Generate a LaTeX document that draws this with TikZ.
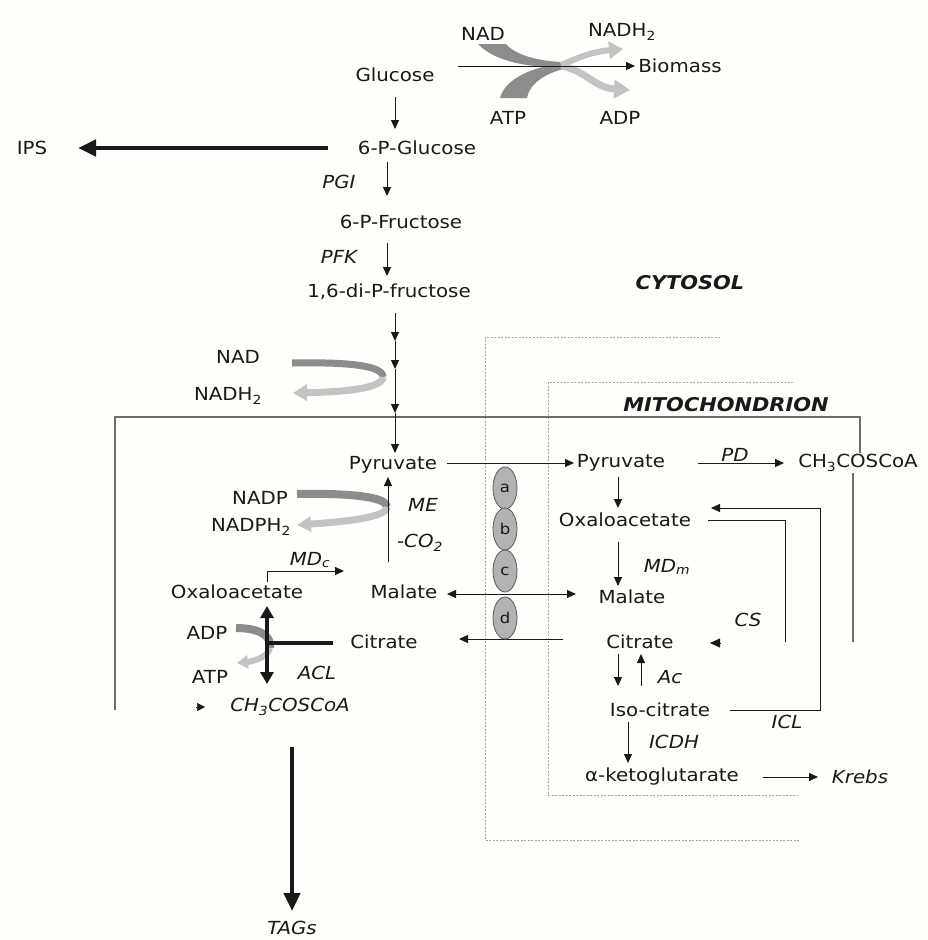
\documentclass[tikz,border=0pt]{standalone}
\usepackage{fontspec}
\setmainfont{DejaVu Sans}[FakeStretch=1.1,ItalicFont={DejaVu Sans Oblique},BoldFont={DejaVu Sans Bold},BoldItalicFont={DejaVu Sans Bold Oblique}]
\usetikzlibrary{arrows.meta,shapes.geometric}
\definecolor{bgc}{RGB}{254,254,250}
\definecolor{ink}{RGB}{25,25,25}
\definecolor{frm}{RGB}{110,110,110}
\definecolor{dotc}{RGB}{165,165,165}
\definecolor{bandD}{RGB}{140,140,140}
\definecolor{bandL}{RGB}{195,195,195}
\tikzset{
 txt/.style={font=\fontsize{18}{20}\selectfont, text=ink, inner sep=0pt},
 lab/.style={font=\fontsize{18}{20}\selectfont\itshape, text=ink, inner sep=0pt},
 ttl/.style={font=\fontsize{19}{21}\selectfont\bfseries\itshape, text=ink, inner sep=0pt},
 arr/.style={draw=ink, line width=1pt, -{Triangle[length=9pt,width=8pt]}},
 thk/.style={draw=ink, line width=4.5pt, -{Triangle[length=18pt,width=16pt]}},
 midthk/.style={draw=ink, line width=3.5pt, -{Triangle[length=12pt,width=13pt]}},
 oval/.style={ellipse, draw=black!65, fill=black!30, line width=0.8pt, minimum width=24pt, minimum height=42pt, inner sep=0pt, font=\fontsize{15}{16}\selectfont, text=ink},
 frame/.style={draw=frm, line width=1.1pt},
 dotline/.style={draw=dotc, line width=0.8pt, dash pattern=on 2pt off 1.5pt},
}
\begin{document}
\begin{tikzpicture}[x=1pt,y=-1pt]
\useasboundingbox (0,0) rectangle (928,940);
\fill[bgc] (0,0) rectangle (928,940);

% ---------- dotted compartments ----------
\draw[dotline] (720,337) -- (485,337) -- (485,840) -- (800,840);
\draw[dotline] (793,382) -- (548,382) -- (548,795) -- (797,795);

% ---------- cell frame line ----------
\coordinate (fA) at (115,710);
\coordinate (fB) at (115,417);
\coordinate (fC) at (860,417);
\coordinate (fD) at (860,453);
\coordinate (fE) at (853,473);
\coordinate (fF) at (853,642);
\draw[frame] (fA) -- (fB) -- (fC) -- (fD);
\draw[frame] (fE) -- (fF);

% ---------- text nodes ----------
\node[txt] (glc) at (395,75) {Glucose};
\node[txt] (nadT) at (483,34) {NAD};
\node[txt] (nadhT) at (622,32) {NADH\textsubscript{2}};
\node[txt] (bio) at (680,66) {Biomass};
\node[txt] (atpT) at (508,118) {ATP};
\node[txt] (adpT) at (620,118) {ADP};
\node[txt] (g6p) at (417,148) {6-P-Glucose};
\node[txt] (ips) at (32,148) {IPS};
\node[lab] (pgi) at (339,182) {PGI};
\node[txt] (f6p) at (401,222) {6-P-Fructose};
\node[lab] (pfk) at (339,257) {PFK};
\node[txt] (fbp) at (389,292) {1,6-di-P-fructose};
\node[ttl] (cyt) at (690,283) {CYTOSOL};
\node[txt] (nadL) at (238,357) {NAD};
\node[txt] (nadhL) at (228,396) {NADH\textsubscript{2}};
\node[ttl] (mito) at (726,405) {MITOCHONDRION};
\node[txt] (pyrC) at (393,465) {Pyruvate};
\node[txt] (pyrM) at (621,463) {Pyruvate};
\node[lab] (pd) at (735,455) {PD};
\node[txt] (accM) at (858,463) {CH\textsubscript{3}COSCoA};
\node[txt] (nadp) at (260,498) {NADP};
\node[lab] (me) at (423,505) {ME};
\node[txt] (oaaM) at (625,520) {Oxaloacetate};
\node[txt] (nadph) at (251,527) {NADPH\textsubscript{2}};
\node[lab] (co2) at (420,543) {-CO\textsubscript{2}};
\node[lab] (mdc) at (310,560) {MD\textsubscript{c}};
\node[lab] (mdm) at (667,567) {MD\textsubscript{m}};
\node[txt] (oaaC) at (237,592) {Oxaloacetate};
\node[txt] (malC) at (404,592) {Malate};
\node[txt] (malM) at (632,597) {Malate};
\node[lab] (cs) at (748,620) {CS};
\node[txt] (adpL) at (207,633) {ADP};
\node[txt] (citC) at (384,642) {Citrate};
\node[txt] (citM) at (640,642) {Citrate};
\node[txt] (atpL) at (210,677) {ATP};
\node[lab] (acl) at (317,673) {ACL};
\node[lab] (ac) at (670,677) {Ac};
\node[lab] (accC) at (290,707) {CH\textsubscript{3}COSCoA};
\node[txt] (iso) at (660,710) {Iso-citrate};
\node[lab] (icl) at (787,722) {ICL};
\node[lab] (icdh) at (674,742) {ICDH};
\node[txt] (akg) at (662,777) {α-ketoglutarate};
\node[lab] (krebs) at (860,777) {Krebs};
\node[lab] (tags) at (292,928) {TAGs};

% ---------- top energy bands ----------
\fill[bandD] (478,44) .. controls (495,62) and (530,68) .. (564,67) -- (566,62) .. controls (540,62) and (515,55) .. (506,44) -- cycle;
\fill[bandD] (500,98) .. controls (505,78) and (535,66) .. (565,63) -- (568,68) .. controls (548,72) and (530,82) .. (527,98) -- cycle;
\draw[bandL, line width=6pt, -{Triangle[length=14pt,width=17pt]}] (561,65) .. controls (578,58) and (590,52) .. (623,49);
\draw[bandL, line width=7pt, -{Triangle[length=16pt,width=18pt]}] (561,66) .. controls (585,70) and (595,88) .. (630,90);
\coordinate (bmS) at (458,66);
\coordinate (bmE) at (635,66);
\draw[arr] (bmS) -- (bmE);

% ---------- glycolysis ----------
\coordinate (a1s) at (395,97);  \coordinate (a1e) at (395,129);
\draw[arr] (a1s) -- (a1e);
\coordinate (ipsS) at (328,148); \coordinate (ipsE) at (78,148);
\draw[thk] (ipsS) -- (ipsE);
\coordinate (a2s) at (387,162); \coordinate (a2e) at (387,196);
\draw[arr] (a2s) -- (a2e);
\coordinate (a3s) at (387,243); \coordinate (a3e) at (387,276);
\draw[arr] (a3s) -- (a3e);

% NAD curl
\draw[bandD, line width=7pt] (292,363) .. controls (345,362) and (383,365) .. (383,377);
\draw[bandL, line width=7pt, -{Triangle[length=14pt,width=16pt]}] (383,377) .. controls (383,389) and (340,392) .. (293,393);

\coordinate (c0) at (395,313);
\coordinate (c1) at (395,341);
\coordinate (c2) at (395,369);
\coordinate (c3) at (395,413);
\coordinate (c4) at (395,453);
\draw[arr] (c0) -- (c1);
\draw[arr] (c1) -- (c2);
\draw[arr] (c2) -- (c3);
\draw[arr] (c3) -- (c4);

% ---------- cytosol lower part ----------
\draw[bandD, line width=8pt] (297,494) .. controls (352,493) and (387,497) .. (387,507);
\draw[bandL, line width=7pt, -{Triangle[length=14pt,width=15pt]}] (387,507) .. controls (387,518) and (340,522) .. (297,525);

\coordinate (meS) at (388,562); \coordinate (meE) at (388,477);
\draw[arr] (meS) -- (meE);
\coordinate (mdS) at (267,582); \coordinate (mdK) at (267,571); \coordinate (mdE) at (344,571);
\draw[arr] (mdS) -- (mdK) -- (mdE);

\draw[bandD, line width=8pt] (236,628) .. controls (258,628) and (272,635) .. (270,648);
\draw[bandL, line width=6pt, -{Triangle[length=11pt,width=13pt]}] (270,648) .. controls (268,656) and (256,661) .. (237,663);

\coordinate (aclS) at (333,643); \coordinate (aclK) at (267,643);
\coordinate (aclU) at (267,606); \coordinate (aclD) at (267,684);
\draw[draw=ink, line width=3.5pt] (aclS) -- ([xshift=-1.75pt]aclK);
\draw[midthk] (aclK) -- (aclU);
\draw[midthk] (aclK) -- (aclD);
\coordinate (acS) at (196,707); \coordinate (acE) at (205,707);
\draw[draw=ink, line width=0.5pt, -{Triangle[length=8pt,width=8pt]}] (acS) -- (acE);
\coordinate (tgS) at (292,747); \coordinate (tgE) at (292,911);
\draw[thk] (tgS) -- (tgE);

% ---------- transport ----------
\coordinate (pyS) at (447,463); \coordinate (pyE) at (574,463);
\draw[arr] (pyS) -- (pyE);
\coordinate (mlS) at (447,594); \coordinate (mlE) at (576,594);
\draw[arr, {Triangle[length=9pt,width=8pt]}-{Triangle[length=9pt,width=8pt]}] (mlS) -- (mlE);
\coordinate (ctS) at (563,639); \coordinate (ctE) at (459,639);
\draw[arr] (ctS) -- (ctE);
\node[oval] (ova) at (505,488) {a};
\node[oval] (ovb) at (505,529) {b};
\node[oval] (ovc) at (505,571) {c};
\node[oval] (ovd) at (505,618) {d};

% ---------- mitochondrion ----------
\coordinate (pdS) at (698,463); \coordinate (pdE) at (784,463);
\draw[arr] (pdS) -- (pdE);
\coordinate (m1s) at (618,477); \coordinate (m1e) at (618,508);
\draw[arr] (m1s) -- (m1e);
\coordinate (m2s) at (618,542); \coordinate (m2e) at (618,586);
\draw[arr] (m2s) -- (m2e);
\coordinate (csA) at (708,520); \coordinate (csB) at (785,520); \coordinate (csC) at (785,642);
\draw[draw=ink, line width=1pt] (csA) -- (csB) -- (csC);
\coordinate (csT1) at (720,643); \coordinate (csT2) at (710,643);
\draw[draw=ink, line width=0.5pt, -{Triangle[length=10pt,width=9pt]}] (csT1) -- (csT2);
\coordinate (m3s) at (618,654); \coordinate (m3e) at (618,686);
\draw[arr] (m3s) -- (m3e);
\coordinate (m4s) at (641,686); \coordinate (m4e) at (641,654);
\draw[arr] (m4s) -- (m4e);
\coordinate (iclA) at (730,710); \coordinate (iclB) at (820,710);
\coordinate (iclC) at (820,508); \coordinate (iclD) at (711,508);
\draw[arr] (iclA) -- (iclB) -- (iclC) -- (iclD);
\coordinate (m5s) at (628,722); \coordinate (m5e) at (628,763);
\draw[arr] (m5s) -- (m5e);
\coordinate (kbS) at (763,777); \coordinate (kbE) at (818,777);
\draw[arr] (kbS) -- (kbE);
\end{tikzpicture}
\end{document}
